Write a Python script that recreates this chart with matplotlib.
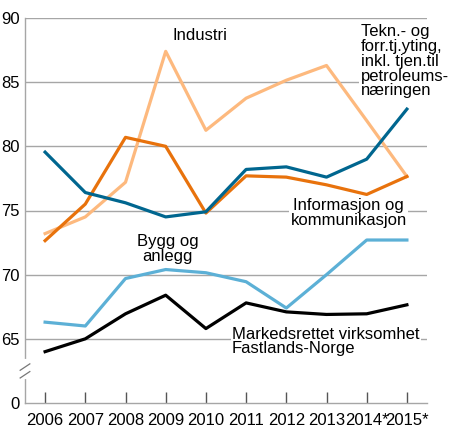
import matplotlib
matplotlib.use('Agg')
import matplotlib.pyplot as plt

plt.rcParams['font.family'] = ['Liberation Sans', 'DejaVu Sans']

years = [2006, 2007, 2008, 2009, 2010, 2011, 2012, 2013, 2014, 2015]
year_labels = ['2006', '2007', '2008', '2009', '2010', '2011', '2012', '2013', '2014*', '2015*']

industri = [73.2, 74.5, 77.2, 87.4, 81.25, 83.75, 85.15, 86.3, 82.0, 77.65]
tekn = [79.55, 76.4, 75.6, 74.5, 74.9, 78.2, 78.4, 77.6, 79.0, 82.9]
informasjon = [72.65, 75.5, 80.7, 80.0, 74.8, 77.7, 77.6, 77.0, 76.25, 77.65]
bygg = [66.3, 66.0, 69.7, 70.4, 70.15, 69.45, 67.4, 70.0, 72.7, 72.7]
markeds = [64.0, 65.0, 66.95, 68.4, 65.8, 67.8, 67.1, 66.9, 66.95, 67.65]

# axis is broken: the bottom of the plot (60) is labelled 0
y_ticks = [60, 65, 70, 75, 80, 85, 90]
y_labels = ['0', '65', '70', '75', '80', '85', '90']

fig = plt.figure(figsize=(4.5, 4.43), dpi=100)
ax = fig.add_axes([25/450, 1-403/443, 402/450, 385/443])

for v in y_ticks[1:]:
    ax.axhline(v, color='#a6a6a6', lw=1, zorder=1)

ax.plot(years, industri, color='#fdb97e', lw=2.3, zorder=3)
ax.plot(years, informasjon, color='#e8720c', lw=2.3, zorder=4)
ax.plot(years, tekn, color='#00668f', lw=2.3, zorder=5)
ax.plot(years, bygg, color='#5cb0d6', lw=2.3, zorder=3)
ax.plot(years, markeds, color='black', lw=2.3, zorder=3)

ax.set_xlim(2005.5, 2015.5)
ax.set_ylim(60, 90)
ax.set_xticks(years)
ax.set_xticklabels(year_labels)
ax.set_yticks(y_ticks)
ax.set_yticklabels(y_labels)

for s in ['top', 'right']:
    ax.spines[s].set_visible(False)
for s in ['left', 'bottom']:
    ax.spines[s].set_color('#a6a6a6')
    ax.spines[s].set_linewidth(1)
ax.tick_params(axis='x', direction='in', length=8, color='#555555', width=1, labelsize=12, pad=7)
ax.tick_params(axis='y', length=0, labelsize=12, pad=4)

# break marks on the y axis
ax.plot([2005.5, 2005.5], [62.0, 63.3], color='white', lw=3, clip_on=False, zorder=6)
for yy in [62.2, 62.8]:
    ax.plot([2005.38, 2005.62], [yy - 0.25, yy + 0.25], color='#777777', lw=0.9, clip_on=False, zorder=7)

bbox = dict(facecolor='white', edgecolor='none', pad=1)
ax.text(2009.85, 88.6, 'Industri', fontsize=12, ha='center', va='center', zorder=8)
ax.text(2013.85, 89.5, 'Tekn.- og\nforr.tj.yting,\ninkl. tjen.til\npetroleums-\nnæringen',
        fontsize=12, ha='left', va='top', linespacing=0.98, bbox=bbox, zorder=8)
ax.text(2013.55, 74.8, 'Informasjon og\nkommunikasjon', fontsize=12, ha='center', va='center',
        linespacing=1.0, bbox=bbox, zorder=8)
ax.text(2009.05, 72.0, 'Bygg og\nanlegg', fontsize=12, ha='center', va='center',
        linespacing=0.98, zorder=8)
ax.text(2010.65, 64.8, 'Markedsrettet virksomhet\nFastlands-Norge', fontsize=12, ha='left', va='center',
        linespacing=0.98, bbox=bbox, zorder=8)

fig.savefig('out.png', dpi=100)
